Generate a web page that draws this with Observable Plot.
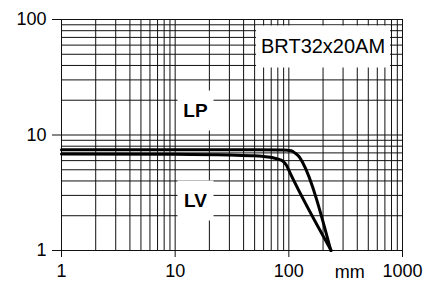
<!DOCTYPE html>
<html><head><meta charset="utf-8">
<script src="https://cdn.jsdelivr.net/npm/d3@7"></script>
<script src="https://cdn.jsdelivr.net/npm/@observablehq/plot@0.6"></script>
<style>body{margin:0;background:#fff}#chart svg{display:block}</style>
</head><body><div id="chart"></div>
<script>
// Series (x in mm, y value)
const lpX = [1, 50, 90, 105, 114, 121, 127, 132, 234];
const lpY = [7.45, 7.45, 7.4, 7.3, 6.95, 6.6, 6.2, 5.8, 1];
const lvX = [1, 10, 30, 50, 65, 75, 84, 90, 95, 103, 236];
const lvY = [6.85, 6.8, 6.7, 6.6, 6.45, 6.3, 6.1, 5.85, 5.5, 4.65, 1];

// Ticks and grid
const xTicks = [1, 10, 100, 1000];
const yTicks = [1, 10, 100];
const xGrid = [1,2,3,4,5,6,7,8,9,10,20,30,40,50,60,70,80,90,100,200,300,400,500,600,700,800,900,1000];
const yGrid = [1,2,3,4,5,6,7,8,9,10,20,30,40,50,60,70,80,90,100];

// Annotations
const labels = ["LP", "LV", "BRT32x20AM"];
const labelX = [15.1, 15.1, 200];
const labelY = [16.3, 2.71, 58.4];
const boxW = [36, 36, 134];
const boxH = [40, 40, 42];
const unitLabel = "mm";
const unitX = 343;

const lp = lpX.map((x, i) => ({x, y: lpY[i]}));
const lv = lvX.map((x, i) => ({x, y: lvY[i]}));
const ann = labels.map((t, i) => ({t, x: labelX[i], y: labelY[i], w: boxW[i], h: boxH[i]}));

function boxSymbol(w, h) {
  return {draw(ctx) { ctx.rect(-w / 2, -h / 2, w, h); }};
}

const font = "'Liberation Sans', Arial, Helvetica, sans-serif";

const chart = Plot.plot({
  width: 427,
  height: 282,
  marginLeft: 61,
  marginRight: 25,
  marginTop: 19,
  marginBottom: 32,
  style: {fontFamily: font, background: "#fff", color: "#000"},
  x: {type: "log", domain: [1, 1000]},
  y: {type: "log", domain: [1, 100]},
  marks: [
    Plot.ruleX(xGrid, {x: d => d, stroke: "#111", strokeWidth: 1}),
    Plot.ruleY(yGrid, {y: d => d, stroke: "#111", strokeWidth: 1}),
    ...ann.map(a => Plot.dot([a], {x: "x", y: "y", fill: "#fff", stroke: null, symbol: boxSymbol(a.w, a.h)})),
    Plot.line(lp, {x: "x", y: "y", stroke: "#000", strokeWidth: 3, curve: "monotone-x"}),
    Plot.line(lv, {x: "x", y: "y", stroke: "#000", strokeWidth: 3, curve: "monotone-x"}),
    Plot.text(ann.slice(0, 2), {x: "x", y: "y", text: "t", fontSize: 19, fontWeight: "bold", fill: "#000"}),
    Plot.text(ann.slice(2), {x: "x", y: "y", text: "t", fontSize: 20, fill: "#000"}),
    Plot.axisX(xTicks, {tickSize: 7, tickPadding: 7, fontSize: 18, tickFormat: d => String(d), label: null, stroke: "#111"}),
    Plot.axisY(yTicks, {tickSize: 9, tickPadding: 6, fontSize: 18, tickFormat: d => String(d), label: null, stroke: "#111"}),
    Plot.text([unitLabel], {x: () => unitX, frameAnchor: "bottom", lineAnchor: "top", dy: 15, fontSize: 18, text: d => d, fill: "#000"})
  ]
});
document.getElementById("chart").appendChild(chart);
</script>
</body></html>
